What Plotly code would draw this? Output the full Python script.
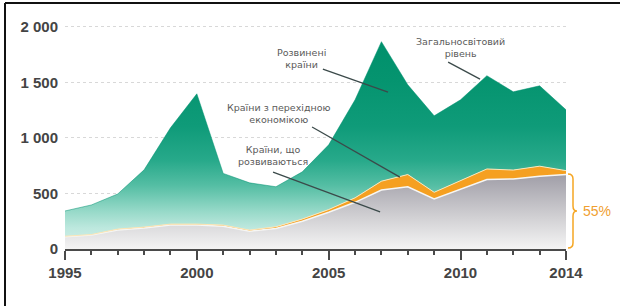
import plotly.graph_objects as go

years = list(range(1995, 2015))
developing = [110, 125, 171, 189, 216, 216, 205, 160, 185, 250, 330, 420, 530, 560, 450, 540, 625, 630, 655, 670]
transition = [5, 5, 8, 8, 8, 8, 10, 10, 15, 20, 25, 40, 80, 110, 60, 75, 95, 80, 90, 35]
developed = [227, 266, 316, 515, 866, 1172, 465, 425, 360, 424, 582, 882, 1255, 807, 688, 727, 839, 704, 723, 547]

y_tickvals = [0, 500, 1000, 1500, 2000]
y_ticktext = ["0", "500", "1 000", "1 500", "2 000"]
x_tickvals = [1995, 2000, 2005, 2010, 2014]

W, H = 620, 306
L, R, T, B = 65, 54, 10, 57
PW, PH = W - L - R, H - T - B


def px(x):
    return (x - L) / PW


def py(y):
    return (H - B - y) / PH


fig = go.Figure()
fig.add_trace(go.Scatter(
    x=years, y=developing, stackgroup="one", mode="lines",
    line=dict(color="#f6f6f4", width=1.5),
    fillgradient=dict(type="vertical", start=0, stop=700,
                      colorscale=[[0, "#f4f4f4"], [0.4, "#d2d1d4"], [1, "#9c9aa4"]]),
    hoverinfo="skip", showlegend=False))
fig.add_trace(go.Scatter(
    x=years, y=transition, stackgroup="one", mode="lines",
    line=dict(color="#fde6b8", width=1),
    fillcolor="#f5a021",
    hoverinfo="skip", showlegend=False))
fig.add_trace(go.Scatter(
    x=years, y=developed, stackgroup="one", mode="lines",
    line=dict(color="#009170", width=0.5),
    fillgradient=dict(type="vertical", start=0, stop=1900,
                      colorscale=[[0, "#d6f1eb"], [0.1, "#bde8de"], [0.18, "#96d9c8"],
                                  [0.3, "#55bea4"], [0.42, "#27a98a"], [0.58, "#0f9b79"],
                                  [0.8, "#05946f"], [1, "#00906b"]]),
    hoverinfo="skip", showlegend=False))

txt = dict(size=9.5, color="#5a5a5a", family="DejaVu Sans")
ann = [
    (2003.95, 1717, "Розвинені<br>країни"),
    (2003.1, 1222, "Країни з перехідною<br>економікою"),
    (2002.9, 845, "Країни, що<br>розвиваються"),
    (2009.98, 1815, "Загальносвітовий<br>рівень"),
]
for x, y, t in ann:
    fig.add_annotation(x=x, y=y, text=t, showarrow=False, font=txt, xref="x", yref="y",
                       align="center", xanchor="center", yanchor="middle")

lines = [
    (2004.78, 1618, 2007.25, 1411),
    (2004.37, 1097, 2007.7, 647),
    (2002.89, 692, 2006.95, 333),
    (2009.53, 1681, 2010.74, 1528),
]
for x0, y0, x1, y1 in lines:
    fig.add_shape(type="line", x0=x0, y0=y0, x1=x1, y1=y1, xref="x", yref="y",
                  line=dict(color="#3b4a4a", width=1.3))

# brace
bx = 573
path = (f"M {px(568)},{py(174)} Q {px(bx)},{py(174)} {px(bx)},{py(179)} "
        f"L {px(bx)},{py(206)} Q {px(bx)},{py(211)} {px(577)},{py(211)} "
        f"Q {px(bx)},{py(211)} {px(bx)},{py(216)} L {px(bx)},{py(243)} "
        f"Q {px(bx)},{py(248)} {px(568)},{py(248)}")
fig.add_shape(type="path", path=path, xref="paper", yref="paper",
              line=dict(color="#f5a623", width=1.5))
fig.add_annotation(x=px(597), y=py(211), xref="paper", yref="paper", text="55%",
                   xanchor="center", yanchor="middle",
                   showarrow=False, font=dict(size=14, color="#f0a030", family="Liberation Sans"))

# frame
fig.add_shape(type="line", x0=px(5), x1=px(625), y0=py(3), y1=py(3), xref="paper", yref="paper",
              line=dict(color="#111111", width=2))
fig.add_shape(type="line", x0=px(5), x1=px(5), y0=py(3), y1=py(310), xref="paper", yref="paper",
              line=dict(color="#111111", width=2))

tick_font = dict(size=15, color="#444444", family="Liberation Sans", weight="bold")
fig.update_layout(
    width=W, height=H, margin=dict(l=L, r=R, t=T, b=B),
    paper_bgcolor="white", plot_bgcolor="white",
    font=dict(family="Liberation Sans", color="#333333"),
    xaxis=dict(range=[1995, 2014], tickvals=x_tickvals, showgrid=False, zeroline=False,
               showline=True, linecolor="#4a4a4a", linewidth=2,
               ticks="outside", ticklen=9, tickwidth=2, tickcolor="#4a4a4a",
               minor=dict(dtick=1, tick0=1995, ticks="outside", ticklen=4, tickwidth=1.5,
                          tickcolor="#4a4a4a", showgrid=False),
               tickfont=tick_font),
    yaxis=dict(range=[0, 2150], tickvals=y_tickvals, ticktext=y_ticktext,
               showgrid=True, gridcolor="#d8d8d8", griddash="dot", gridwidth=1,
               zeroline=False, showline=False, ticks="", ticklabelstandoff=6,
               tickfont=tick_font),
)

fig.write_html("out.html", config={"displayModeBar": False},
               post_script="document.body.style.margin='0';document.body.style.overflow='hidden';")
